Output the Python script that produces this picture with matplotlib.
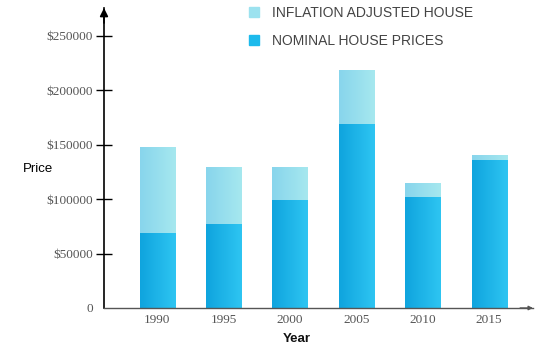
import numpy as np
import matplotlib.pyplot as plt
from matplotlib.colors import LinearSegmentedColormap
from matplotlib.patches import Patch

years = ['1990', '1995', '2000', '2005', '2010', '2015']
nominal = [69000, 77000, 99000, 169000, 102000, 136000]
inflation_adjusted = [148000, 130000, 130000, 219000, 115000, 141000]
yticks = [0, 50000, 100000, 150000, 200000, 250000]
ytick_labels = ['0', '$50000', '$100000', '$150000', '$200000', '$250000']

dark_cmap = LinearSegmentedColormap.from_list('dark', ['#0fa4de', '#2ec5f2'])
light_cmap = LinearSegmentedColormap.from_list('light', ['#88d5ec', '#a6e8ef'])


def gradient_fill(ax, bars, cmap):
    grad = np.linspace(0, 1, 64).reshape(1, -1)
    for p in bars:
        x0, y0 = p.get_x(), p.get_y()
        x1, y1 = x0 + p.get_width(), y0 + p.get_height()
        im = ax.imshow(grad, extent=[x0, x1, y0, y1], aspect='auto',
                       cmap=cmap, zorder=p.get_zorder() + 0.1)
        im.set_clip_path(p)


fig = plt.figure(figsize=(5.5, 3.5), dpi=100)
ax = fig.add_axes([104 / 550, 42 / 350, 429 / 550, 300 / 350])

x = np.arange(len(years))
width = 0.53
extra = [a - n for a, n in zip(inflation_adjusted, nominal)]
b_nom = ax.bar(x, nominal, width, color='#1db5ea', zorder=2)
b_inf = ax.bar(x, extra, width, bottom=nominal, color='#98dfee', zorder=2)
gradient_fill(ax, b_nom, dark_cmap)
gradient_fill(ax, b_inf, light_cmap)

ax.set_xlim(-0.8, 5.66)
ax.set_ylim(0, 275700)

for s in ['top', 'right']:
    ax.spines[s].set_visible(False)
ax.spines['left'].set_color('black')
ax.spines['left'].set_linewidth(1.2)
ax.spines['bottom'].set_color('#555555')
ax.spines['bottom'].set_linewidth(1.0)

# axis arrows
ax.annotate('', xy=(0, 1.0), xytext=(0, 0.95), xycoords='axes fraction',
            arrowprops=dict(arrowstyle='-|>', color='black', lw=1.2,
                            mutation_scale=12, shrinkA=0, shrinkB=0))
ax.annotate('', xy=(1.0, 0), xytext=(0.97, 0), xycoords='axes fraction',
            arrowprops=dict(arrowstyle='-|>', color='#555555', lw=1.0,
                            mutation_scale=6, shrinkA=0, shrinkB=0))

serif = 'Liberation Serif'
ax.set_yticks(yticks)
ax.set_yticklabels(ytick_labels, family=serif, fontsize=9.5, color='#555555')
ax.tick_params(axis='y', direction='inout', length=12, width=1.0, color='black', pad=2)
ax.yaxis.get_major_ticks()[0].tick1line.set_visible(False)

ax.set_xticks(x)
ax.set_xticklabels(years, family=serif, fontsize=9.5, color='#555555')
ax.tick_params(axis='x', length=0, pad=4)

fig.text(38 / 550, 1 - 169 / 350, 'Price', ha='center', va='center',
         family='Liberation Sans', fontsize=9.5, color='black')
fig.text(297 / 550, 1 - 339 / 350, 'Year', ha='center', va='center',
         family='Liberation Sans', fontsize=9.5, fontweight='bold', color='#111111')

handles = [Patch(color='#9ce2ef'), Patch(color='#1dbaec')]
fig.legend(handles, ['INFLATION ADJUSTED HOUSE', 'NOMINAL HOUSE PRICES'],
           loc='upper left', bbox_to_anchor=(249 / 550, 1 - 6 / 350),
           frameon=False, borderpad=0, borderaxespad=0, handlelength=0.75,
           handleheight=0.75, handletextpad=0.9, labelspacing=1.0,
           prop={'family': 'Liberation Sans', 'size': 10}, labelcolor='#444444')

fig.savefig('out.png', dpi=100)
